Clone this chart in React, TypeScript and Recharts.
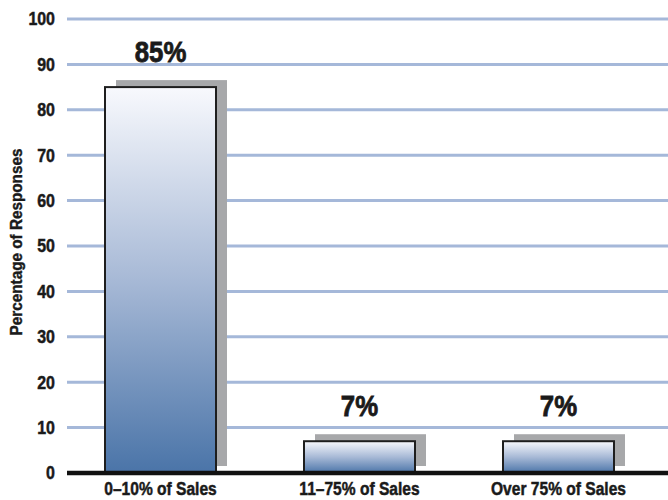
import React from "react";
import {
  Bar,
  BarChart,
  CartesianGrid,
  LabelList,
  XAxis,
  YAxis,
} from "recharts";

const categories = ["0–10% of Sales", "11–75% of Sales", "Over 75% of Sales"];
const responses = [85, 7, 7];
const yTicks = [0, 10, 20, 30, 40, 50, 60, 70, 80, 90, 100];

const data = categories.map((category, i) => ({
  category,
  value: responses[i],
}));

const FONT = "'Liberation Sans', Arial, sans-serif";
const INK = "#1a1a1a";

// condensed heavy look: squeeze a bold sans horizontally, thin stroke for weight
const Narrow = ({ x, y, anchor, size, squeeze, baseline, weight = 0.5, children }: any) => (
  <g transform={`translate(${x},${y})`}>
    <text
      transform={`scale(${squeeze},1)`}
      textAnchor={anchor}
      dominantBaseline={baseline}
      fontFamily={FONT}
      fontWeight="bold"
      fontSize={size}
      fill={INK}
      stroke={INK}
      strokeWidth={weight}
    >
      {children}
    </text>
  </g>
);

const XTick = (props: any) => (
  <Narrow x={props.x} y={props.y + 16} anchor="middle" size={19} squeeze={0.82}>
    {props.payload.value}
  </Narrow>
);

const YTick = (props: any) => (
  <Narrow x={props.x} y={props.y} anchor="end" size={19} squeeze={0.84} baseline="central">
    {props.payload.value}
  </Narrow>
);

const TopLabel = (props: any) => (
  <Narrow
    x={props.x + props.width / 2}
    y={props.y - 25}
    anchor="middle"
    size={30}
    squeeze={0.86}
    weight={0.8}
  >
    {`${props.value}%`}
  </Narrow>
);

const ShadowBar = (props: any) => {
  const { x, y, width, height } = props;
  return (
    <g>
      <rect x={x + 11} y={y - 7} width={width} height={height} fill="#a7a8aa" />
      <rect
        x={x}
        y={y}
        width={width}
        height={height}
        fill="url(#barGrad)"
        stroke="#1e1e1e"
        strokeWidth={2}
      />
    </g>
  );
};

const YTitle = (props: any) => {
  const { viewBox } = props;
  const cx = viewBox.x + 22;
  const cy = viewBox.y + viewBox.height / 2 - 4;
  return (
    <g transform={`translate(${cx},${cy}) rotate(-90)`}>
      <text
        transform="scale(0.9,1)"
        textAnchor="middle"
        fontFamily={FONT}
        fontWeight="bold"
        fontSize={17}
        fill={INK}
        stroke={INK}
        strokeWidth={0.4}
      >
        Percentage of Responses
      </text>
    </g>
  );
};

const App: React.FC = () => (
  <div style={{ position: "absolute", left: 0, top: 0, background: "#fff" }}>
    <BarChart
      width={668}
      height={500}
      data={data}
      margin={{ top: 19, right: 0, left: 0, bottom: 0 }}
      barSize={111}
    >
      <defs>
        <linearGradient id="barGrad" x1="0" y1="0" x2="0" y2="1">
          <stop offset="0%" stopColor="#f8f9fd" />
          <stop offset="50%" stopColor="#a7b9d6" />
          <stop offset="100%" stopColor="#4a74a8" />
        </linearGradient>
      </defs>
      <CartesianGrid vertical={false} stroke="#a5b8d9" strokeWidth={3} />
      <XAxis
        dataKey="category"
        height={27}
        interval={0}
        tickLine={false}
        axisLine={{ stroke: "#111", strokeWidth: 4.5 }}
        tickMargin={0}
        padding={{ left: -6, right: 10 }}
        tick={<XTick />}
      />
      <YAxis
        width={67}
        domain={[0, 100]}
        ticks={yTicks}
        interval={0}
        tickLine={false}
        axisLine={false}
        tickMargin={6}
        tick={<YTick />}
        label={<YTitle />}
      />
      <Bar dataKey="value" shape={<ShadowBar />} isAnimationActive={false}>
        <LabelList dataKey="value" content={<TopLabel />} />
      </Bar>
    </BarChart>
  </div>
);

export default App;
